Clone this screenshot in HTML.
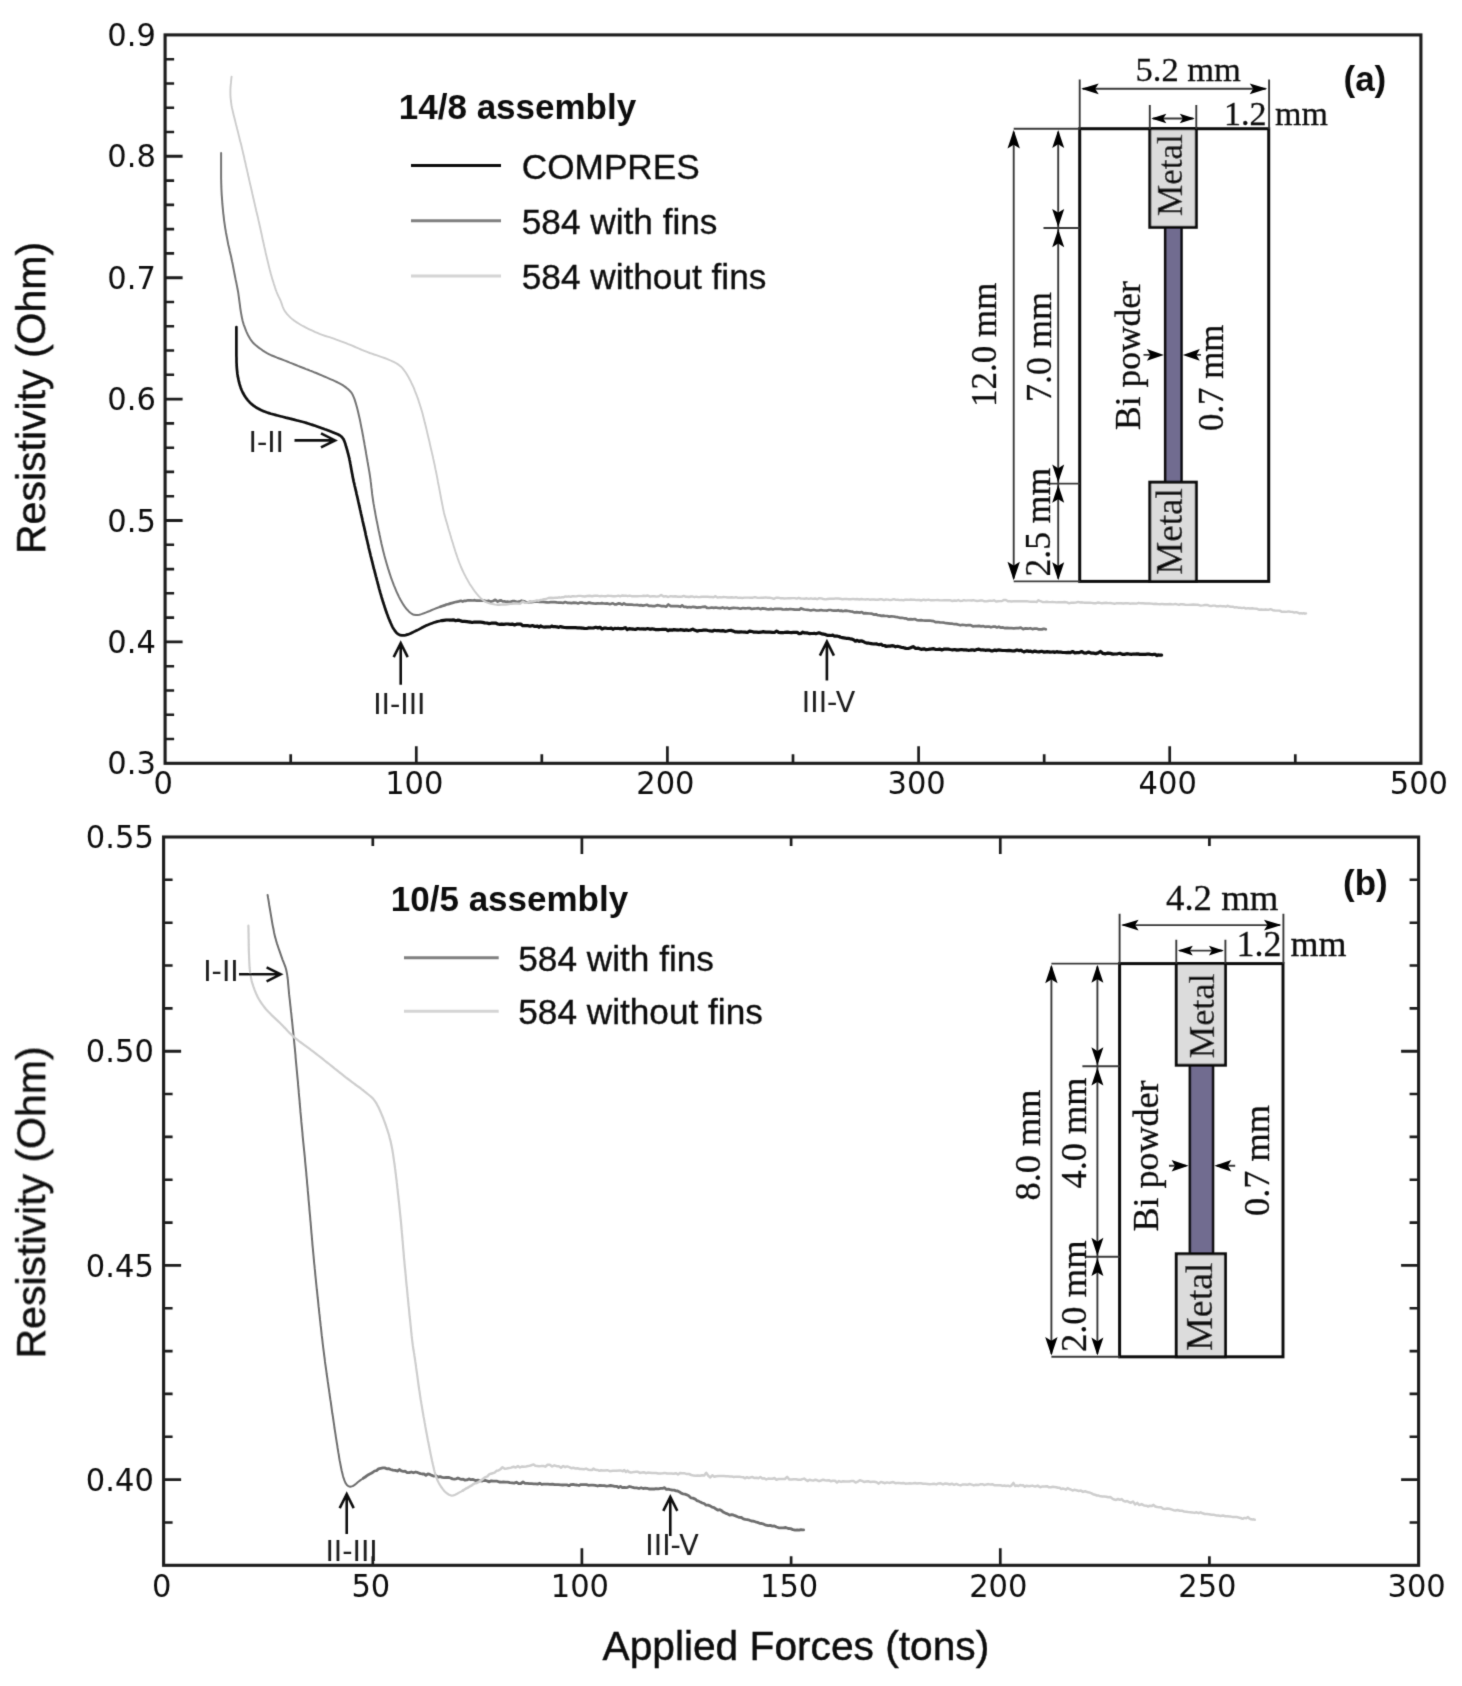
<!DOCTYPE html>
<html lang="en"><head><meta charset="utf-8"><title>Resistivity vs applied force</title>
<style>html,body{margin:0;padding:0;background:#fff}body{width:1462px;height:1686px;overflow:hidden}svg{display:block}.tk{font-family:"DejaVu Sans", "Liberation Sans", sans-serif;font-size:32.3px;fill:#0c0c0c}.ann{font-family:"DejaVu Sans", "Liberation Sans", sans-serif;font-size:28.5px;fill:#1a1a1a}.lg{font-family:"Liberation Sans", sans-serif;font-size:35.2px;fill:#111;stroke:#111;stroke-width:0.35px}.ttl{font-family:"Liberation Sans", sans-serif;font-size:35px;font-weight:bold;fill:#111}.ax{font-family:"Liberation Sans", sans-serif;font-size:41px;fill:#111;stroke:#111;stroke-width:0.45px}.sa{font-family:"Liberation Serif", serif;font-size:34px;fill:#111;stroke:#111;stroke-width:0.3px}.sb{font-family:"Liberation Serif", serif;font-size:36px;fill:#111;stroke:#111;stroke-width:0.3px}</style></head><body>
<svg width="1462" height="1686" viewBox="0 0 1462 1686">
<defs><filter id="soft" x="0" y="0" width="1462" height="1686" filterUnits="userSpaceOnUse"><feConvolveMatrix order="3" kernelMatrix="1 6 1 6 36 6 1 6 1" divisor="64" edgeMode="duplicate" preserveAlpha="false"/></filter></defs>
<rect x="0" y="0" width="1462" height="1686" fill="#fff"/>
<g filter="url(#soft)">
<g fill="none" stroke-linecap="round" stroke-linejoin="round">
<path d="M236.4 327.2L236.4 328.5L236.4 330.2L236.4 332.2L236.4 334.4L236.4 336.9L236.4 339.4L236.4 342L236.4 344.5L236.4 346.9L236.4 349.1L236.4 351.1L236.4 353.5L236.4 355.8L236.5 358L236.5 360L236.5 362L236.6 363.9L236.7 365.7L236.8 367.5L237 369.8L237.2 371.9L237.4 374L237.7 375.9L238.1 377.8L238.5 379.8L239 381.8L239.5 383.8L240.1 385.8L240.7 387.7L241.4 389.5L242.2 391.3L243.2 393.3L244.3 395.2L245.4 397L246.6 398.7L247.9 400.3L249.6 402.2L251.3 403.9L253.2 405.4L255.3 406.9L257.1 408L259 409L260.9 410L263 410.9L265.2 411.8L267.1 412.5L269 413.1L270.9 413.7L273 414.3L275.2 414.9L277.5 415.5L279.4 416L281.4 416.5L283.5 417L285.7 417.6L287.9 418.1L290 418.6L292 419.1L293.9 419.6L296.2 420.2L298.3 420.7L300.3 421.2L302.3 421.8L304.2 422.3L306.2 422.9L308.2 423.5L310.3 424.2L312.4 424.9L314.4 425.6L316.5 426.3L318.5 427L320.6 427.7L322.7 428.5L324.9 429.3L327 430L329 430.8L330.8 431.5L333.3 432.5L335.7 433.4L337.7 434.2L339.5 435.2L341.3 436.5L342.6 437.9L343.7 439.6L344.6 441.7L345.4 444.2L346.2 447L346.8 448.8L347.3 450.7L347.9 452.8L348.5 455.2L349.2 458L349.5 459.6L349.9 461.3L350.2 463.2L350.6 465.1L350.9 467.1L351.3 469.2L351.7 471.3L352.1 473.5L352.5 475.6L352.9 477.7L353.3 479.6L353.7 481.6L354.2 483.5L354.6 485.5L355.1 487.5L355.6 489.6L356.1 491.6L356.5 493.7L357 495.8L357.5 497.9L358 500L358.4 502L358.9 503.9L359.3 505.9L359.8 507.9L360.2 510L360.7 512L361.1 514.1L361.6 516.1L362.1 518.2L362.5 520.3L363 522.5L363.5 524.6L364 526.6L364.4 528.7L364.9 530.7L365.4 532.8L365.8 535L366.3 537.1L366.8 539.2L367.3 541.3L367.8 543.5L368.3 545.6L368.7 547.6L369.2 549.7L369.7 551.7L370.2 553.8L370.7 556L371.3 558.1L371.8 560.2L372.3 562.2L372.8 564.3L373.3 566.3L373.8 568.4L374.4 570.4L374.9 572.4L375.4 574.3L375.9 576.3L376.5 578.4L377 580.5L377.6 582.6L378.1 584.7L378.7 586.8L379.2 588.8L379.8 590.8L380.3 592.8L380.9 594.7L381.4 596.6L382 598.5L382.7 600.8L383.4 603L384.1 605.2L384.8 607.4L385.5 609.5L386.2 611.5L386.9 613.5L387.6 615.3L388.2 617L389.1 619.3L390 621.4L390.8 623.3L391.6 625L392.3 626.6L393.1 628L394.6 630.4L396 632.2L397.4 633.6L399.4 634.9L401.7 635.4L403.5 635.4L405.6 635.1L407.9 634.4L409.9 633.7L412 632.7L414.2 631.6L416.5 630.5L418.4 629.6L420.3 628.6L422.3 627.5L424.3 626.5L426.3 625.6L428.2 624.8L430.1 623.9L432.1 623.2L434.1 622.5L436.2 621.9L438 621.4L439.9 621L441.8 620.6" stroke="#0a0a0a" stroke-width="2.7"/><path d="M441.8 620.6L443.9 620.3L446.1 620L448.5 620L450.2 620.2L452 620.2L453.8 619.9L455.6 620.7L457.6 620.2L459.7 620.4L461.9 621.3L464.4 621.4L467 621.7L468.7 621.9L470.5 622.1L472.3 622.5L474.3 622L476.3 622.2L478.3 622.2L480.4 622.2L482.6 622.4L484.7 622.9L486.9 623L489.1 623.6L491.3 623.2L493.4 623.1L495.6 623L497.7 624L499.7 624.4L501.7 624.1L503.8 624.4L505.9 624L508.1 624L510.2 624.3L512.4 624.1L514.5 624.9L516.6 624.2L518.7 624.1L520.7 624L522.7 625.7L524.7 625.6L526.5 625.7L528.3 625.7L530 626.2L532.4 625.5L534.3 626.3L536 626.4L537.5 626.1L539 627.2L540.6 625.9L542.3 626.7L544.5 627.1L547 626.9L550.2 627L551.7 626.1L553.3 626.7L555 626.7L556.8 626.8L558.6 627.4L560.6 626.5L562.5 627.2L564.6 627.5L566.7 627.7L568.8 627.6L571 627.6L573.2 627.6L575.5 627.6L577.7 627.8L580 627.9L582.3 628.1L584.5 628.4L586.8 628.5L589.1 627.8L591.3 628L593.5 628L595.7 627.3L597.9 627.9L600 627.3L602 629L603.9 628.2L605.8 628.2L607.6 628.5L609.4 628.5L611.2 628.1L612.9 629.2L614.7 628.4L616.4 628.5L618.2 628.3L619.9 628.7L621.7 628.6L623.5 628.3L625.4 627.7L627.3 629.7L629.2 628.7L631.2 628.8L633.3 629.1L635.4 629.5L637.7 628.5L640 629L642.4 628.9L644.9 629.2L647.6 628.5L650.3 629.3L651.9 628.9L653.5 629L655.2 629.6L656.9 629.5L658.7 629.6L660.5 629.5L662.3 629.3L664.1 629.3L666 629.3L668 630.7L669.9 629.8L671.9 630.1L673.9 629.6L675.9 629.9L678 630.2L680.1 629.7L682.2 629.9L684.3 630.4L686.4 629.9L688.5 630.5L690.7 630L692.8 629.1L695 630.3L697.1 631.1L699.3 630.5L701.5 630.5L703.6 630.1L705.8 630L708 630.5L710.1 630.8L712.3 631.2L714.4 630.3L716.6 630.7L718.7 630.6L720.8 630.8L722.9 630.6L724.9 631.3L727 631L729 630.5L731 630.4L733 631L734.9 631.8L736.9 631.8L738.7 632.1L740.6 631.9L742.8 632L745.1 632.2L747.4 632.5L749.6 631.1L751.9 631.5L754.2 632.2L756.4 632.2L758.7 632.4L761 632.2L763.2 631.6L765.5 632.1L767.7 632.2L769.9 632.1L772.2 632.3L774.4 632.5L776.6 631.1L778.7 632.4L780.9 632.7L783 632.7L785.1 632.3L787.2 632.1L789.3 632.4L791.3 632.6L793.3 632.4L795.3 632.4L797.2 632.4L799.1 633.7L801 633.4L802.8 632.2L804.6 632.9L806.3 632.9L808 633.2L809.7 633.6L811.3 633.5L812.8 633.5L814.3 633.3L815.8 633.7L819.1 632.8L822.1 633.9L824.7 634.3L827.1 635.3L829.2 635.4L831.1 635.5L832.8 635.2L834.5 636.2L836 636.1L837.5 636.2L839 636.5L840.6 637.3L842.2 637.6L844 637.9L845.9 638.3L847.9 638.4L849.8 638.7L851.7 639.1L853.5 639.8L855.4 641.2L857.2 640.3L859.1 641.4L861 640.8L862.9 641.4L864.9 642.4L866.9 643.1L869 643.2L871.2 643.6L873.6 644L876 643.9L877.7 644.3L879.4 644.6L881.1 644.2L882.8 645.5L884.6 645.5L886.3 646.5L888.1 646.2L889.9 646.1L891.7 645.7L893.6 645.9L895.5 646.8L897.5 646.3L899.5 646.8L901.6 647.5L903.7 647.7L906 648.4L908.3 648.5L910.6 647.8L913.1 646.6L915.7 648.5L918.3 648.2L921.1 649.4L922.7 649.1L924.4 648.9L926.1 649.7L927.9 649.5L929.8 649.1L931.7 648.9L933.6 648.6L935.6 649.5L937.6 649.5L939.6 649.1L941.7 649.9L943.8 649.2L946 649L948.1 649.1L950.3 649.5L952.5 649.8L954.7 649.5L956.9 650.1L959.1 649.8L961.3 649.5L963.6 649.9L965.8 649.9L968 650.3L970.2 650.1L972.4 649.8L974.6 650.4L976.7 649.5L978.9 649.1L981 650L983.1 649.9L985.1 650.3L987.1 650.1L989.1 650.1L991 650.8L992.9 650.8L994.8 650.1L996.6 650.6L998.3 649.9L1000 650.1L1002.5 650.5L1004.8 650.5L1007 650.7L1009 650.4L1010.9 650.7L1012.7 651L1014.4 650.9L1016.1 650.2L1017.7 650.2L1019.3 650.6L1020.8 650.2L1022.3 651.1L1023.9 651.9L1025.5 651.3L1027.2 650.9L1028.9 651.4L1030.7 651.2L1032.6 651.9L1034.6 651.1L1036.8 651.6L1039.1 651.9L1041.6 651.3L1044.3 652.1L1047.2 651.7L1050.3 652.1L1051.8 652L1053.4 651.9L1055 652.4L1056.8 651.6L1058.5 652.2L1060.4 652L1062.3 652.3L1064.3 652.5L1066.3 652.6L1068.3 652.4L1070.4 652.7L1072.6 651.5L1074.8 652.8L1077 652.6L1079.3 652.6L1081.6 651.5L1083.9 652.8L1086.2 653.1L1088.6 652.1L1091 653.1L1093.4 653.1L1095.8 653.6L1098.2 652.9L1100.6 651.4L1103 653.4L1105.5 653.8L1107.9 653.1L1110.3 653.4L1112.7 654.1L1115.1 654L1117.5 653.8L1119.8 653.3L1122.2 654.3L1124.5 654.4L1126.8 653.7L1129 654L1131.2 654.3L1133.4 654L1135.5 654.2L1137.6 653.9L1139.7 654.4L1141.7 654.3L1143.6 654.4L1145.5 654.3L1147.3 654.2L1149.1 654.2L1150.8 654.5L1152.4 654.7L1154 654.3L1155.4 654.4L1156.8 655.6L1158.2 654.8L1159.4 655.2L1160.5 655L1161.6 655.1" stroke="#0a0a0a" stroke-width="3.2"/>
<path d="M221.1 152.9L221.1 154.2L221.1 155.8L221.1 157.8L221.1 159.9L221.1 162.3L221.1 164.7L221.1 167.2L221.1 169.7L221.1 172.1L221.1 174.2L221.1 176.2L221.1 178.6L221.2 180.8L221.2 182.9L221.3 184.9L221.3 186.9L221.4 188.8L221.5 190.8L221.6 192.8L221.7 194.9L221.9 197L222 199L222.2 201.1L222.3 203.2L222.5 205.2L222.7 207.3L222.9 209.4L223.1 211.5L223.3 213.6L223.6 215.6L223.8 217.7L224 219.8L224.3 221.9L224.6 223.9L224.9 226L225.2 228.1L225.6 230.2L225.9 232.2L226.3 234.3L226.7 236.4L227.1 238.4L227.5 240.5L227.9 242.6L228.3 244.7L228.8 246.8L229.3 248.8L229.7 250.9L230.2 253L230.7 255L231.2 257.1L231.6 259.2L232 261.3L232.5 263.3L232.9 265.4L233.3 267.5L233.7 269.6L234.1 271.6L234.5 273.7L234.9 275.8L235.3 277.9L235.7 279.9L236.2 282L236.6 284.1L237 286.1L237.4 288.2L237.8 290.3L238.2 292.4L238.5 294.6L238.8 296.8L239.1 299L239.4 301.3L239.7 303.5L240 305.6L240.2 307.6L240.5 309.5L240.9 312.1L241.3 314.4L241.7 316.5L242.1 318.6L242.6 320.7L243.2 322.9L243.9 325.1L244.7 327.2L245.5 329.3L246.3 331.3L247.2 333.3L248.1 335.2L249.1 337L250.1 338.8L251.2 340.4L252.6 342.2L254.1 343.8L255.8 345.3L257.8 346.9L259.4 348.1L261.1 349.3L262.9 350.6L264.9 351.9L267 353.1L269.3 354.3L271.1 355.2L273.1 356L275.1 356.8L277.2 357.7L279.3 358.5L281.5 359.3L283.6 360.1L285.7 360.9L287.7 361.7L289.8 362.6L291.9 363.4L293.9 364.2L295.9 365L298 365.9L300.1 366.7L302.1 367.5L304.1 368.3L306.1 369.1L308 369.8L310 370.6L312 371.3L314 372.2L316.2 373L318.5 374L320.3 374.8L322.3 375.6L324.3 376.5L326.5 377.4L328.6 378.3L330.8 379.3L332.9 380.2L334.9 381.1L336.8 382L338.5 382.8L340 383.6L342.7 385.2L344.8 386.6L346.5 387.9L347.9 389.1L349.2 390.3L350.9 392L351.9 393.4L352.9 395.3L353.7 397.1L354.5 399.1L355.2 401.4L356 403.9L356.5 405.7L357 407.5L357.5 409.4L358 411.5L358.5 413.7L359.1 416.2L359.5 418L359.9 419.8L360.3 421.8L360.7 423.9L361.1 426L361.5 428.1L362 430.3L362.4 432.5L362.8 434.7L363.2 436.7L363.5 438.7L363.9 440.8L364.3 442.8L364.6 444.9L365 447L365.4 449.2L365.8 451.3L366.1 453.5L366.5 455.6L366.8 457.6L367.2 459.5L367.5 461.5L367.9 463.5L368.2 465.6L368.6 467.6L368.9 469.6L369.3 471.6L369.6 473.7L369.9 475.7L370.2 477.7L370.5 479.7L370.7 481.7L371 483.7L371.2 485.7L371.4 487.7L371.7 489.7L371.9 491.7L372.1 493.7L372.4 495.8L372.7 497.9L373 500L373.3 502L373.6 503.9L374 505.9L374.3 507.9L374.7 510L375.1 512L375.4 514.1L375.8 516.1L376.2 518.2L376.6 520.3L377.1 522.5L377.5 524.6L377.9 526.6L378.3 528.7L378.7 530.7L379.2 532.8L379.6 535L380.1 537.1L380.5 539.2L381 541.3L381.4 543.5L381.9 545.6L382.4 547.6L382.9 549.7L383.4 551.7L384 553.9L384.5 556L385.1 558.2L385.7 560.3L386.3 562.4L386.9 564.5L387.5 566.6L388.1 568.6L388.8 570.6L389.4 572.6L390 574.5L390.6 576.3L391.4 578.7L392.3 581L393.1 583.2L393.9 585.3L394.8 587.4L395.6 589.4L396.4 591.3L397.2 593.1L398 594.8L399.1 597.1L400.2 599.2L401.2 601.1L402.2 602.8L403.2 604.4L404.2 605.9L405.7 608L407.3 609.8L408.8 611.4L410.3 612.7L412.1 614L413.9 614.8L415.9 615.1L417.6 615L419.5 614.7L421.5 614.1L423.9 613.3L425.7 612.6L427.7 611.8L429.8 611L431.9 610L434.1 609.1L436.2 608.3L438.3 607.5L440.3 606.8" stroke="#757575" stroke-width="2.0"/><path d="M440.3 606.8L442.4 606L444.4 605.4L446.4 604.5L448.5 604.1L450.6 603.4L452.6 602.9L454.7 602.3L456.7 601.8L458.8 601.4L460.8 600.8L462.7 601.6L464.4 600.8L466.2 600.8L468.1 600.3L470.3 600.4L473.1 600.5L474.7 600.2L476.4 600.7L478.2 600.5L480.1 600.6L482.1 600.6L484.1 600.6L486.3 601.3L488.5 600.7L490.7 601.8L493 601L495.3 599.8L497.7 601.6L499.4 600.7L501.1 600.4L502.7 601.5L504.3 601.4L506 601.8L507.6 601.7L509.3 602L511 601.6L512.8 601.1L514.8 601.2L516.9 602.1L519.1 601.7L521.5 600.7L524.1 601.3L526.9 602.7L530 601.9L531.5 602.1L533 601.9L534.6 601.6L536.2 601.7L537.9 601.7L539.7 602L541.4 602L543.2 601.9L545.1 602.1L546.9 602.3L548.9 602.5L550.8 602L552.8 602.2L554.8 602.1L556.8 602.4L558.9 602.6L560.9 602.5L563 603L565.2 602L567.3 602.8L569.4 602.9L571.6 603.1L573.8 602.7L576 602.8L578.1 603.5L580.3 602.6L582.5 602.7L584.7 603.2L586.9 603.3L589.1 602.6L591.3 603.1L593.5 603.4L595.7 603.6L597.8 603.3L600 603.5L601.9 603.1L603.7 603.5L605.6 603.6L607.4 603.4L609.3 604.1L611.1 603.8L612.9 603.3L614.8 604.4L616.6 604.3L618.4 603.4L620.3 603.7L622.1 604.6L623.9 603.4L625.8 604.5L627.6 604.7L629.5 604.6L631.4 604.5L633.3 604.8L635.1 605L637.1 604.9L639 605.3L640.9 605.1L642.9 605.6L644.9 605.2L646.9 604.8L648.9 605.9L650.9 605.9L653 606.1L655.1 606.1L657.3 605.2L659.4 605.5L661.6 606.2L663.8 606L666.1 606.7L668.4 604.5L670.7 606.1L673.1 606L675.5 606.2L677.9 606.1L680.4 606.8L682.1 605.4L683.8 606.8L685.6 606.8L687.4 607.4L689.3 607L691.2 607.3L693.1 606.8L695 607.1L697 607.6L699 607.3L701 607.3L703.1 606.8L705.2 606.7L707.3 608L709.4 608L711.6 607.5L713.7 607.9L715.9 607.5L718.1 608L720.3 608.2L722.5 607.4L724.8 608.3L727 607.8L729.3 608.6L731.5 608.2L733.7 607.9L736 608L738.3 608.2L740.5 608.7L742.8 608L745 608.3L747.2 608.2L749.5 608L751.7 609L753.9 608.6L756.1 608.5L758.3 608.1L760.4 609.1L762.6 608.4L764.7 608.6L766.8 609.1L768.9 609.4L770.9 608.9L773 609.5L775 608.8L776.9 608.8L778.9 608.9L780.8 608.9L782.7 609.4L784.5 609.5L786.3 609.2L788.1 609.5L789.8 609L791.5 609.2L793.2 609.3L794.8 609.6L796.3 609.7L797.8 609.7L799.3 609.7L800.7 608.4L804.3 609.5L807.7 609.8L810.8 610.5L813.7 609.8L816.4 610.5L818.9 610.3L821.2 610L823.3 610.5L825.3 610.5L827.2 610.6L828.9 610L830.6 610L832.2 610.5L833.7 610.7L835.2 610.6L836.7 610.6L838.2 610.2L839.6 610.9L841.1 610.6L842.6 611.1L844.2 610.9L845.9 610.6L848.3 611L850.6 611.4L852.6 611.7L854.6 612.5L856.5 612.2L858.3 612.4L860.1 612.6L861.8 612L863.6 613.4L865.4 613.2L867.3 613.3L869.3 613.5L871.4 613.6L873.6 614.6L876 614.3L877.7 615.2L879.5 615.3L881.4 615.9L883.3 615.7L885.2 616L887.2 616L889.2 616.6L891.3 616.3L893.4 616.5L895.5 616.9L897.6 617.2L899.7 617.8L901.9 617.8L904.1 618.3L906.2 618.4L908.4 619.4L910.5 619.1L912.7 619.4L914.8 619L916.9 620.2L919 620.3L921.1 620.1L923.2 620.5L925.2 620.6L927.3 620.6L929.4 620.5L931.5 620.8L933.6 621.1L935.7 622.2L937.8 622L939.9 622.4L942 622.5L944.1 622.7L946.2 623.2L948.3 623.4L950.3 623.7L952.4 623.7L954.4 624.2L956.5 624.1L958.5 624.7L960.5 625.3L962.4 624.8L964.4 625L966.3 625.4L968.5 625L970.6 625.1L972.8 626.3L974.9 626.2L976.9 626.2L979 625.9L981 626.4L983 626.1L985 626.8L987 626.6L989 626.6L990.9 627.3L992.9 626.7L994.9 626.6L996.9 627.5L998.9 626.7L1001 627.7L1003 627.4L1005.1 628.2L1007.1 627.9L1009.3 628.1L1011.5 628.2L1013.8 628.3L1016.1 628.2L1018.5 628.1L1020.8 627.6L1023.2 629.1L1025.6 628.3L1027.9 628.7L1030.1 628.2L1032.4 629.1L1034.5 628.7L1036.5 628.5L1038.4 629.3L1040.2 629.4L1041.9 629.4L1043.4 628.9L1044.7 628.9L1045.8 629.3" stroke="#757575" stroke-width="2.7"/>
<path d="M231.6 76.6L231.4 78L231.2 80L231 82.4L230.7 85L230.5 87.5L230.4 89.9L230.4 92.1L230.4 94.3L230.5 96.6L230.7 98.8L230.9 101L231.2 103.2L231.5 105.4L231.9 107.5L232.4 109.6L232.9 111.8L233.4 114L234 116.4L234.5 118.3L235 120.3L235.5 122.4L236 124.5L236.6 126.6L237.1 128.8L237.7 130.9L238.2 133L238.7 135.1L239.2 137.1L239.7 139.2L240.2 141.2L240.8 143.3L241.3 145.3L241.8 147.4L242.3 149.6L242.8 151.6L243.2 153.6L243.7 155.6L244.2 157.6L244.6 159.7L245.1 161.7L245.6 163.8L246 165.9L246.5 167.9L247 169.9L247.4 171.9L247.9 174L248.3 176L248.8 178L249.2 180L249.7 182.1L250.1 184.1L250.6 186.1L251.1 188.1L251.5 190.1L252 192.1L252.4 194L252.9 196L253.3 198.1L253.8 200.1L254.3 202.2L254.8 204.4L255.2 206.3L255.7 208.2L256.1 210.2L256.6 212.2L257.1 214.3L257.6 216.3L258.1 218.4L258.5 220.4L259 222.3L259.4 224.2L259.8 226L260.3 228.3L260.8 230.5L261.2 232.6L261.7 234.6L262.1 236.6L262.5 238.6L262.9 240.6L263.4 242.6L263.9 244.7L264.3 246.8L264.8 248.8L265.3 250.9L265.7 253L266.2 255L266.7 257.1L267.2 259.2L267.7 261.3L268.2 263.4L268.7 265.5L269.2 267.6L269.7 269.6L270.3 271.7L270.8 273.8L271.4 275.8L272 277.9L272.6 279.9L273.3 282L273.9 284.1L274.6 286.1L275.2 288.1L275.8 289.9L276.4 291.5L277.5 294.2L278.5 296.4L279.5 298.4L280.5 300.5L281.2 302.4L281.9 304.4L282.6 306.5L283.4 308.4L284.3 310.2L285.6 312.2L287.1 314.1L288.8 315.9L290.5 317.6L292 318.9L293.5 320.1L295.1 321.2L296.8 322.4L298.6 323.5L300.2 324.5L301.9 325.5L303.7 326.4L305.5 327.4L307.4 328.4L309.3 329.3L311.3 330.2L313.3 331.1L315.3 332.1L317.4 332.9L319.5 333.8L321.6 334.6L323.6 335.3L325.5 336L327.5 336.6L329.5 337.2L331.6 337.9L333.9 338.7L335.7 339.4L337.7 340.1L339.7 340.8L341.8 341.6L343.9 342.4L346 343.2L348.2 344.1L350.3 344.9L352.2 345.7L354.1 346.5L356 347.3L357.9 348.1L359.8 349L361.8 349.8L363.7 350.6L365.7 351.4L367.7 352.2L369.7 353L371.9 353.7L374.1 354.5L376.3 355.2L378.4 355.9L380.5 356.7L382.6 357.4L384.5 358L386.2 358.7L388.5 359.6L390.6 360.5L392.5 361.4L394.2 362.2L395.8 363L397.3 363.9L399.2 365.2L400.7 366.4L402 367.7L403.4 369.4L404.6 371L405.9 372.8L407.1 374.8L408.4 376.9L409.6 379.2L410.5 380.9L411.3 382.7L412.2 384.5L413.1 386.4L414 388.4L414.8 390.6L415.7 392.8L416.4 394.6L417.1 396.5L417.8 398.4L418.5 400.4L419.1 402.4L419.8 404.5L420.5 406.7L421.2 408.9L421.9 411.3L422.4 413.1L422.9 415L423.4 417L423.9 419L424.4 421L424.9 423.1L425.5 425.2L426 427.3L426.5 429.4L427 431.6L427.5 433.7L428 435.9L428.5 437.9L429 440L429.5 442L429.9 444.1L430.4 446.3L430.9 448.4L431.4 450.5L431.9 452.6L432.4 454.8L432.9 456.9L433.3 458.9L433.8 461L434.2 463L434.7 465.1L435.1 467.3L435.5 469.4L436 471.5L436.4 473.5L436.8 475.6L437.2 477.6L437.6 479.7L437.9 481.7L438.3 483.7L438.7 485.6L439.1 487.6L439.5 489.7L439.9 491.9L440.3 494.1L440.7 496.2L441.1 498.4L441.5 500.5L441.9 502.5L442.3 504.5L442.7 506.4L443 508.3L443.4 510L443.9 512.4L444.4 514.4L444.9 516.3L445.4 518.1L445.9 519.9L446.6 522.1L447.3 524.6L447.8 526.3L448.3 528.2L448.9 530.2L449.6 532.3L450.2 534.5L450.9 536.7L451.5 539L452.2 541.2L452.9 543.3L453.5 545.4L454.1 547.4L454.7 549.2L455.4 551.5L456.1 553.6L456.8 555.6L457.4 557.5L458.1 559.4L458.7 561.2L459.4 563L460.1 564.7L460.8 566.5L461.7 568.5L462.6 570.5L463.5 572.4L464.4 574.3L465.4 576.1L466.3 577.9L467.3 579.6L468.2 581.3L469.4 583.4L470.7 585.4L472 587.3L473.2 589.1L474.4 590.8L475.6 592.3L477.2 594.4L478.7 596.2L480.2 597.7L481.7 599.1L483.6 600.6L485.6 601.8L487.9 602.8L490 603.5L492.4 604L495 604.5L497.7 604.7" stroke="#cccccc" stroke-width="1.9"/><path d="M497.7 604.7L499.5 604.7L501.4 604.6L503.3 604.5L505.3 604.5L507.6 604.3L510.1 603.9L512 603.8L513.9 603.6L516 603.4L518.1 603.6L520.3 603.7L522.7 601.6L525 602.9L527.5 602.7L530 601.5L531.7 601.6L533.4 601.4L535.2 600.9L536.9 600.4L538.6 600.7L540.4 600L542.3 599.6L544.2 599.1L546.2 599L548.4 598L550.7 597.7L553.1 598L555.7 597.6L557.3 597.8L558.9 597.3L560.5 597.6L562.1 597.3L563.8 597.2L565.5 596.4L567.2 596.7L568.9 596.3L570.7 596.8L572.5 596.1L574.4 596.3L576.4 596.4L578.4 595.9L580.5 595.9L582.6 596.2L584.8 596.5L587.1 596L589.5 595.8L592 596.2L594.5 595.7L597.2 595.6L600 596.3L601.6 596L603.2 596.1L604.8 596.2L606.4 596.2L608 595.7L609.7 595.9L611.4 596L613.1 596.2L614.9 596.3L616.6 596.1L618.4 595.6L620.2 596.3L622 595.5L623.9 595.8L625.8 595.6L627.6 596.2L629.6 595.7L631.5 596.2L633.5 596.3L635.4 596.2L637.5 596.3L639.5 596.1L641.6 596.1L643.6 595.7L645.7 596L647.9 595.5L650 596.6L652.2 596.2L654.4 596.3L656.6 596.6L658.9 596.3L661.2 594.9L663.5 596.5L665.8 596.2L668.2 597L670.6 596.1L673 596.5L675.4 596.3L677.9 596.8L680.4 596.8L682.1 596.5L683.8 595.9L685.5 596.7L687.3 596.7L689 597L690.8 596.5L692.6 596.5L694.4 597.2L696.3 596.7L698.1 597.1L700 597L701.9 596.7L703.8 596.6L705.7 596.8L707.7 596.8L709.6 597L711.6 597L713.6 597.2L715.5 596.1L717.5 597.6L719.6 597.1L721.6 597.4L723.6 597L725.6 597.1L727.7 597.5L729.7 597.5L731.8 597.3L733.9 597.6L736 597.2L738.1 597.9L740.1 597.6L742.2 598L744.3 597.6L746.4 597.6L748.5 597.6L750.7 597.7L752.8 597.7L754.9 597.1L757 597.7L759.1 597.9L761.2 597.7L763.3 597.8L765.5 597.4L767.6 597.7L769.7 597.7L771.8 598.1L773.9 598.9L776 597.8L778.1 597.7L780.2 598.2L782.3 598.1L784.3 598.5L786.4 598.4L788.5 598.3L790.5 598.2L792.6 598.1L794.6 598.1L796.7 598.6L798.7 597.8L800.7 598.5L802.7 598.6L804.7 598.7L806.8 598.3L808.8 598.8L810.9 598.3L812.9 598.9L815 598.5L817.1 599.2L819.2 598.1L821.2 598.4L823.3 599L825.4 599.4L827.5 599L829.7 598.7L831.8 598.8L833.9 598.7L836 598.4L838.1 598.5L840.2 598.8L842.4 599.2L844.5 599L846.6 598.9L848.7 599.2L850.8 599.2L853 598.9L855.1 599.2L857.2 599L859.3 599.5L861.4 599L863.5 599.4L865.6 599.5L867.7 599.1L869.7 599.7L871.8 599.5L873.9 599.5L875.9 599.8L878 599.7L880 599.3L882 599.3L884 600.1L886 599.5L888 599.6L890 600.1L892 599.7L893.9 599.1L895.9 599.9L897.8 599.8L899.7 600.1L901.6 599.9L903.4 600.4L905.3 599.6L907.1 599.7L908.9 599.9L910.7 599.5L912.5 599.7L914.3 599.7L916 600.1L917.7 599.9L919.4 600L921.1 600.5L923.6 599.7L926.1 600.2L928.5 599.6L930.9 600.3L933.2 600.2L935.5 600.1L937.7 600L939.9 600.4L942.1 600.4L944.2 600.1L946.3 600.3L948.4 600.3L950.4 600.3L952.4 601L954.4 600.5L956.4 600.8L958.3 600L960.2 601L962.1 600.9L964 600.2L965.9 600.6L967.7 600.4L969.6 600.4L971.4 600.5L973.3 600.2L975.1 600.6L977 601L978.8 600.8L980.7 600.5L982.5 600.5L984.4 601.3L986.3 601.4L988.2 601L990.1 600.6L992 600.9L994 600.3L996 601.6L998 601.2L1000 601.1L1002 601L1004 599.9L1005.9 600L1007.9 601.3L1009.8 601.3L1011.7 601.5L1013.7 601.1L1015.6 601.2L1017.5 601.3L1019.4 601.2L1021.3 601.1L1023.2 601.2L1025.1 601.1L1027 601.2L1028.9 601.6L1030.9 601.7L1032.8 601.7L1034.7 601.6L1036.6 602.1L1038.5 600.2L1040.5 601.2L1042.4 602L1044.4 602.1L1046.4 601.7L1048.4 602L1050.4 602.1L1052.4 602L1054.4 602.1L1056.4 602.4L1058.5 602.1L1060.6 602.3L1062.7 602.2L1064.8 602L1067 602.4L1069.1 603.3L1071.3 602.6L1073.6 602.7L1075.8 602.6L1078.1 601.9L1080.4 602.5L1082.2 602.3L1084 602.7L1085.9 602.8L1087.8 602.7L1089.7 602.6L1091.7 602.9L1093.7 603.2L1095.7 603.3L1097.7 602.5L1099.8 602.8L1101.8 603.3L1103.9 603L1106 602.8L1108.2 603.1L1110.3 603L1112.4 603.4L1114.6 603.8L1116.8 603.2L1119 603.3L1121.1 603.2L1123.3 603.5L1125.5 603.3L1127.7 603.1L1129.9 603.7L1132.1 603.4L1134.3 603.5L1136.5 603.6L1138.7 602.8L1140.9 603.3L1143 603.2L1145.2 603.5L1147.4 603.5L1149.5 603.5L1151.6 603.6L1153.7 604L1155.8 603.7L1157.9 604.1L1159.9 604.2L1162 603.9L1164 604.3L1166 604.1L1167.9 604.2L1169.8 604L1171.7 604.3L1173.6 604.4L1175.4 603.9L1177.2 604.4L1179 604.8L1180.7 604.1L1182.4 604.2L1184.1 604.5L1185.7 604.9L1188.4 604.9L1191 604.7L1193.5 604.5L1196 604.8L1198.3 604.8L1200.6 605.6L1202.8 605.4L1205 605L1207.1 604.9L1209.1 605.7L1211.1 606.1L1213 605.6L1214.9 605.6L1216.8 606.3L1218.6 606.2L1220.4 605.9L1222.2 606.3L1224 606.1L1225.8 606.7L1227.5 605.7L1229.3 606.5L1231 606.8L1232.8 606.6L1234.6 607.5L1236.4 607.1L1238.2 607.7L1240.1 607.6L1242 608.1L1243.9 607.7L1245.9 608.6L1247.9 608.1L1250 608.5L1252.2 608.2L1254.4 608.6L1256.6 608.7L1258.9 609.7L1261.2 609.5L1263.5 609.8L1265.8 609.5L1268.2 609.9L1270.5 609.2L1272.8 610.2L1275.1 610.5L1277.4 610.6L1279.7 610.6L1281.9 611.9L1284.1 611.7L1286.3 611.9L1288.4 611.4L1290.4 611.8L1292.4 611.9L1294.3 612.6L1296.1 612.1L1297.8 612.7L1299.5 613.5L1301 613.1L1302.4 613.6L1303.7 613.1L1304.9 613.7L1306 613.4" stroke="#cccccc" stroke-width="2.4"/>
<path d="M267.6 895L267.8 896.2L268 897.5L268.3 899.1L268.6 900.9L268.9 902.9L269.2 905L269.6 907.2L270 909.5L270.4 911.9L270.8 914.3L271.2 916.7L271.6 919.2L272 921.5L272.4 923.9L272.8 926.1L273.3 928.3L273.7 930.3L274 932.2L274.4 933.9L275 936.6L275.7 939L276.3 941.2L276.9 943.3L277.6 945.3L278.2 947.2L278.8 949L279.4 950.7L280 952.4L280.6 954.1L281.2 955.8L282 958.1L282.7 960.1L283.5 962L284.2 963.8L284.9 965.7L285.6 967.7L286.2 969.8L286.7 972.2L287 973.9L287.3 975.7L287.5 977.5L287.8 979.3L288 981.2L288.1 983.1L288.3 985.2L288.5 987.3L288.7 989.5L288.9 991.8L289.1 994.2L289.4 996.8L289.6 998.5L289.8 1000.2L290 1002L290.2 1003.9L290.4 1005.8L290.6 1007.7L290.8 1009.7L291 1011.7L291.3 1013.7L291.5 1015.8L291.7 1017.9L291.9 1020L292.2 1022.1L292.4 1024.3L292.6 1026.4L292.8 1028.6L293.1 1030.8L293.3 1032.9L293.5 1035.1L293.7 1037.1L293.9 1039L294.1 1041L294.3 1043.1L294.5 1045.1L294.7 1047.1L294.9 1049.2L295.1 1051.3L295.3 1053.3L295.5 1055.4L295.6 1057.5L295.8 1059.7L296 1061.8L296.2 1063.9L296.4 1066L296.6 1068.2L296.8 1070.3L297 1072.5L297.2 1074.6L297.4 1076.8L297.6 1078.9L297.8 1080.9L298 1082.9L298.1 1084.9L298.3 1086.9L298.5 1088.9L298.7 1090.9L298.8 1092.9L299 1095L299.2 1097L299.4 1099.1L299.6 1101.1L299.7 1103.2L299.9 1105.2L300.1 1107.3L300.3 1109.3L300.4 1111.4L300.6 1113.4L300.8 1115.4L301 1117.4L301.2 1119.4L301.3 1121.4L301.5 1123.4L301.7 1125.4L301.9 1127.4L302.1 1129.5L302.3 1131.5L302.5 1133.5L302.6 1135.5L302.8 1137.5L303 1139.4L303.2 1141.4L303.4 1143.4L303.6 1145.3L303.8 1147.3L304 1149.3L304.2 1151.2L304.4 1153.2L304.6 1155.2L304.8 1157.1L305 1159.1L305.1 1161.1L305.3 1163.1L305.5 1165.1L305.7 1167.2L305.9 1169.2L306.1 1171.2L306.3 1173.1L306.4 1175.1L306.6 1177L306.8 1179L307 1181L307.1 1183L307.3 1184.9L307.5 1186.9L307.7 1188.9L307.8 1190.9L308 1192.9L308.2 1194.9L308.4 1196.9L308.5 1199L308.7 1201L308.9 1203.1L309.1 1205.1L309.3 1207.2L309.4 1209.3L309.6 1211.4L309.8 1213.6L310 1215.7L310.2 1217.6L310.3 1219.5L310.5 1221.4L310.7 1223.2L310.8 1225.1L311 1226.9L311.1 1228.8L311.3 1230.7L311.4 1232.5L311.6 1234.4L311.8 1236.3L311.9 1238.2L312.1 1240.2L312.3 1242.1L312.4 1244.1L312.6 1246.1L312.8 1248.1L313 1250.2L313.2 1252.3L313.4 1254.5L313.6 1256.7L313.8 1258.9L314 1261.2L314.2 1263.5L314.5 1265.9L314.7 1268.4L314.9 1270.1L315.1 1271.9L315.2 1273.7L315.4 1275.6L315.6 1277.5L315.8 1279.4L316 1281.4L316.2 1283.4L316.4 1285.4L316.6 1287.5L316.8 1289.5L317.1 1291.6L317.3 1293.8L317.5 1295.9L317.7 1298L318 1300.2L318.2 1302.4L318.4 1304.5L318.6 1306.7L318.9 1308.9L319.1 1311L319.3 1313.2L319.6 1315.4L319.8 1317.5L320 1319.7L320.3 1321.8L320.5 1323.9L320.7 1325.9L321 1328L321.2 1330L321.4 1332L321.6 1334L321.8 1335.9L322.1 1337.8L322.3 1339.7L322.5 1341.5L322.7 1343.3L322.9 1345L323.2 1347.5L323.5 1349.9L323.8 1352.2L324.1 1354.5L324.4 1356.8L324.7 1359L324.9 1361.2L325.2 1363.3L325.5 1365.4L325.8 1367.5L326.1 1369.6L326.4 1371.6L326.6 1373.5L326.9 1375.5L327.2 1377.4L327.5 1379.3L327.7 1381.2L328 1383.1L328.3 1384.9L328.5 1386.8L328.8 1388.6L329.1 1390.4L329.3 1392.2L329.6 1394L329.8 1395.8L330.1 1397.6L330.4 1399.9L330.8 1402.2L331.1 1404.5L331.4 1406.7L331.7 1408.9L332 1411.1L332.3 1413.3L332.7 1415.4L333 1417.5L333.3 1419.5L333.6 1421.6L333.9 1423.6L334.2 1425.5L334.4 1427.5L334.7 1429.4L335 1431.2L335.3 1433.1L335.6 1434.8L335.8 1436.6L336.1 1438.3L336.5 1440.9L336.9 1443.3L337.3 1445.7L337.6 1448L338 1450.2L338.3 1452.4L338.7 1454.4L339 1456.4L339.3 1458.3L339.6 1460.2L340 1461.9L340.3 1463.7L340.6 1465.3L341.2 1468.2L341.7 1470.8L342.3 1473.1L342.8 1475.2L343.3 1477.1L343.9 1478.8L344.4 1480.4L345.6 1483.2L346.9 1485L348.2 1486.1L350.2 1486.8L352.7 1486.1L354.3 1485.1L356.1 1483.7L358 1482L360.2 1480.4L361.8 1479.3L363.4 1478.2" stroke="#6e6e6e" stroke-width="2.0"/><path d="M363.4 1478.2L365.2 1477L367 1475.7L368.8 1474.5L370.7 1473.6L372.6 1472.5L374.5 1471L376.5 1470.6L378.5 1468.9L380.6 1468.3L382.8 1467.8L384.7 1467.9L386.7 1468.8L388.6 1468.6L390.7 1469.5L392.9 1470.2L395.2 1470.4L397.8 1471.1L399.5 1469.5L401.3 1470.9L403.2 1471.3L405.1 1471.2L407.1 1472.6L409.2 1472.7L411.3 1472L413.5 1472.8L415.7 1472L418 1472.7L420.4 1473.6L422.2 1474L424 1473.8L425.9 1475.3L427.9 1473.8L429.9 1474.4L431.9 1475.4L433.9 1476.2L436 1475.7L438.1 1477.2L440.2 1476.7L442.3 1477.3L444.4 1477.7L446.4 1477.5L448.5 1477.4L450.5 1478L452.5 1478.9L454.3 1479.1L456.2 1478.8L457.9 1478L459.7 1478.8L461.4 1479.3L463.2 1479.1L465 1480.2L466.9 1479.9L468.9 1478.9L470.9 1479.7L473.1 1479.5L475.4 1480.6L477.9 1480.1L480.6 1480.9L482.2 1481L483.9 1480.3L485.7 1480.5L487.5 1481.1L489.3 1481.9L491.2 1480.8L493.2 1481.2L495.2 1481.2L497.2 1481.2L499.2 1482L501.3 1482.1L503.4 1482L505.6 1482.1L507.7 1482.1L509.9 1482.6L512 1482.8L514.2 1483.1L516.4 1482.2L518.6 1483.7L520.8 1483.5L523 1482L525.1 1483.4L527.3 1483.3L529.4 1483.7L531.5 1483.6L533.6 1483.8L535.6 1483.9L537.6 1484.1L539.7 1483.2L541.7 1484.4L543.8 1484.1L545.9 1484.2L548 1484.2L550.1 1484.4L552.2 1484.2L554.3 1484.5L556.4 1484.6L558.5 1484.6L560.6 1484.8L562.7 1485L564.8 1484.8L566.9 1484.9L569 1485.7L571 1484.6L573 1484.3L575 1484.8L577 1485L579 1485.5L580.9 1484.6L582.8 1484.6L584.7 1484.6L586.5 1484.6L588.3 1485.3L590.7 1485.2L593 1485.1L595.3 1485.3L597.6 1486L599.9 1485.3L602.1 1485.6L604.3 1485.6L606.4 1486.1L608.5 1485.9L610.6 1485.5L612.6 1485.8L614.6 1486.4L616.6 1486.3L618.6 1487.5L620.5 1486.4L622.3 1487.6L624.1 1487.3L625.9 1487.7L627.7 1487.3L629.4 1486.5L631.9 1487.2L634.4 1487.8L636.7 1487.9L639 1488.5L641.1 1487.7L643.2 1488.5L645.2 1488.2L647.1 1488.3L649 1489L650.8 1488.8L652.6 1489L654.4 1489L656.1 1488.7L658.5 1488.9L660.6 1488.3L662.7 1488.3L664.6 1487.7L666.4 1489.4L668.3 1489.2L670.1 1489.7L672.1 1490L674.2 1490.2L676 1490.8L677.7 1491L679.5 1491.9L681.2 1493.2L683 1493.8L684.9 1494.2L686.8 1494.8L688.7 1495.7L690.8 1497.8L692.9 1498.1L695.2 1499.1L696.8 1500.6L698.6 1501.1L700.4 1502.1L702.2 1503L704.1 1503.5L706.1 1505.2L708.1 1505.2L710.1 1505.8L712.1 1507.2L714.1 1507.6L716 1509.1L718 1510.2L719.9 1509.7L721.8 1510.8L723.6 1512.3L725.3 1513.1L727.5 1513.8L729.6 1515.2L731.7 1514.6L733.7 1515.2L735.6 1515.9L737.5 1516.7L739.4 1517.4L741.4 1517.5L743.3 1518.8L745.3 1519.3L747.3 1519.7L749.4 1520.2L751.4 1521L753.4 1521.1L755.4 1521.8L757.5 1522.4L759.6 1523.3L761.7 1523.5L763.8 1524.2L765.9 1525.2L768.1 1525.6L770.2 1525.4L772.3 1526.1L774.4 1526L776.5 1527L778.7 1527.8L780.9 1527.9L783.3 1527.8L785.7 1527.5L788.2 1528.5L790.6 1528.6L792.9 1529.6L795.2 1530.2L797.3 1529.9L799.2 1530.2L800.9 1529.7L802.4 1529.9L803.6 1529.8" stroke="#6e6e6e" stroke-width="2.8"/>
<path d="M248.4 925.7L248.4 926.9L248.5 928.2L248.5 929.8L248.5 931.6L248.6 933.6L248.6 935.6L248.6 937.8L248.7 940.1L248.7 942.5L248.7 944.9L248.8 947.4L248.8 949.9L248.9 952.4L249 954.8L249.1 957.2L249.2 959.6L249.3 961.8L249.4 963.9L249.5 965.9L249.6 967.7L249.8 969.4L250.1 972.2L250.5 974.8L250.9 977.1L251.3 979.2L251.7 981.1L252.2 982.9L252.8 984.7L253.3 986.3L253.9 987.9L254.5 989.6L255.2 991.3L256 993.4L256.9 995.3L257.8 997.2L258.8 999L259.8 1000.7L260.9 1002.4L262.1 1004.2L263.4 1005.9L264.8 1007.7L266 1009.2L267.4 1010.7L268.9 1012.3L270.4 1013.8L271.9 1015.4L273.5 1016.9L275.1 1018.4L276.7 1019.9L278.3 1021.4L279.8 1022.8L281.2 1024.2L282.8 1025.8L284.3 1027.4L285.7 1028.8L287 1030.3L288.4 1031.7L289.8 1033.2L291.4 1034.6L293 1036.2L294.9 1037.8L296.3 1039L297.8 1040.1L299.3 1041.3L300.9 1042.5L302.5 1043.7L304.1 1044.9L305.9 1046.2L307.6 1047.4L309.4 1048.7L311.2 1050.1L313 1051.4L314.9 1052.8L316.8 1054.3L318.3 1055.5L319.8 1056.7L321.4 1057.9L323 1059.2L324.6 1060.5L326.3 1061.8L328 1063.2L329.7 1064.5L331.4 1065.9L333 1067.2L334.7 1068.6L336.4 1069.9L338 1071.2L339.6 1072.5L341.2 1073.7L342.7 1074.9L344.2 1076.1L346.1 1077.6L348 1079L349.9 1080.4L351.7 1081.8L353.5 1083.2L355.3 1084.5L357.1 1085.8L358.8 1087L360.4 1088.2L361.9 1089.4L363.4 1090.5L364.7 1091.6L366 1092.6L368.3 1094.5L370.2 1096L371.7 1097.3L373 1098.6L374.2 1100.1L375.6 1102.1L376.6 1103.7L377.5 1105.4L378.5 1107.3L379.4 1109.2L380.3 1111.3L381.2 1113.4L382.1 1115.5L383 1117.7L383.8 1119.9L384.5 1121.7L385.2 1123.6L385.9 1125.5L386.5 1127.4L387.2 1129.4L387.8 1131.4L388.5 1133.5L389.1 1135.5L389.6 1137.6L390.2 1139.7L390.7 1141.8L391.1 1143.7L391.5 1145.6L391.9 1147.5L392.3 1149.4L392.6 1151.3L392.9 1153.2L393.2 1155.2L393.5 1157.3L393.8 1159.4L394.1 1161.6L394.5 1164L394.8 1166.4L395 1168.2L395.3 1170.1L395.5 1172.1L395.8 1174.2L396 1176.3L396.3 1178.5L396.6 1180.7L396.8 1182.9L397.1 1185.1L397.3 1187.4L397.6 1189.6L397.8 1191.8L398 1194L398.3 1196.1L398.5 1198.1L398.7 1200.1L398.9 1202L399.2 1204.3L399.4 1206.6L399.6 1208.6L399.8 1210.7L400 1212.6L400.2 1214.5L400.4 1216.4L400.6 1218.4L400.8 1220.4L401 1222.5L401.2 1224.6L401.4 1226.9L401.6 1229.4L401.8 1231.1L401.9 1232.9L402.1 1234.6L402.2 1236.3L402.4 1238.1L402.5 1239.9L402.7 1241.7L402.8 1243.5L403 1245.4L403.1 1247.3L403.3 1249.3L403.5 1251.4L403.7 1253.5L403.8 1255.7L404 1258.1L404.3 1260.5L404.5 1263L404.7 1265.6L405 1268.4L405.2 1270L405.3 1271.7L405.5 1273.5L405.7 1275.4L405.9 1277.3L406 1279.3L406.2 1281.3L406.4 1283.4L406.6 1285.6L406.9 1287.7L407.1 1290L407.3 1292.2L407.5 1294.4L407.7 1296.7L408 1299L408.2 1301.3L408.4 1303.6L408.6 1305.9L408.9 1308.1L409.1 1310.4L409.3 1312.6L409.5 1314.8L409.7 1317L410 1319.1L410.2 1321.2L410.4 1323.2L410.6 1325.2L410.8 1327.1L411 1328.9L411.1 1330.6L411.3 1332.3L411.5 1333.9L411.6 1335.4L411.8 1336.8L412.2 1340.6L412.6 1343.6L412.9 1346L413.2 1348L413.4 1349.6L413.7 1351L413.9 1352.4L414.2 1353.9L414.4 1355.5L414.7 1357.5L415.1 1360L415.3 1361.7L415.6 1363.6L415.9 1365.5L416.1 1367.4L416.4 1369.5L416.7 1371.6L417 1373.7L417.3 1375.9L417.6 1378.1L417.9 1380.3L418.2 1382.5L418.5 1384.8L418.8 1387L419.1 1389.2L419.5 1391.3L419.8 1393.5L420.1 1395.6L420.4 1397.6L420.7 1399.7L421.1 1401.8L421.4 1403.9L421.8 1406L422.1 1408.1L422.5 1410.2L422.8 1412.3L423.2 1414.3L423.5 1416.4L423.9 1418.4L424.3 1420.4L424.6 1422.4L425 1424.4L425.3 1426.4L425.7 1428.4L426 1430.3L426.4 1432.2L426.8 1434.4L427.2 1436.5L427.6 1438.7L428 1440.9L428.5 1443.1L428.9 1445.2L429.3 1447.3L429.7 1449.4L430.1 1451.4L430.5 1453.4L430.9 1455.4L431.3 1457.2L431.7 1459L432 1460.7L432.4 1462.3L433 1465.1L433.6 1467.5L434.1 1469.8L434.6 1471.8L435.2 1473.7L435.7 1475.5L436.3 1477.2L436.9 1478.9L437.8 1481.1L438.8 1483L439.9 1484.9L440.9 1486.5L442 1488L443 1489.4L444.5 1491.2L446.1 1492.7L447.6 1493.8L449 1494.7L451.2 1495.6L453.5 1495.4L455.2 1494.8L457.1 1493.8L459.5 1492.4L461 1491.6L462.7 1490.6" stroke="#cecece" stroke-width="2.2"/><path d="M462.7 1490.6L464.5 1489.5L466.3 1488.4L468.2 1487.5L470 1486.3L471.7 1485.4L473.5 1484.1L475.2 1483.2L477 1482.9L478.8 1482L480.6 1480.6L482.2 1479.5L483.9 1478.1L485.6 1477.1L487.4 1476.3L489.1 1474.4L490.9 1473.7L492.6 1473.2L494.6 1472.6L496.5 1470.8L498.4 1470.5L500.4 1469.2L502.5 1467.3L504.7 1468.8L506.7 1468.5L508.9 1468.1L511.1 1467.6L513.4 1466.8L515.7 1467.5L517.9 1466.1L520 1467.5L522.2 1466.4L524.1 1466.7L526 1466.5L528.1 1466.1L530.6 1465.5L533.6 1464.4L535.3 1465.8L537.1 1466L539 1466.2L541 1466.1L543.1 1465.9L545.3 1466.7L547.6 1464.8L549.8 1464.8L552.1 1466.5L554.4 1465.3L556.7 1466.2L558.9 1466.3L561 1467.7L563.1 1466L565.2 1467.2L567.2 1466.4L569.3 1467.1L571.3 1468.3L573.4 1467.7L575.4 1468.6L577.5 1468.2L579.6 1469L581.7 1468.9L583.9 1469.2L586.1 1468.6L588.3 1469.7L590.2 1470.1L591.9 1470L593.4 1468.6L594.9 1469.6L596.4 1469.9L597.9 1470L599.4 1470.8L601.1 1470.3L602.9 1470.6L604.9 1470.4L607.2 1470.2L609.8 1471.2L612.8 1470.8L616.2 1470.7L620 1470.4L621.4 1470.7L622.8 1471.3L624.3 1470.1L625.9 1472L627.5 1470.6L629.1 1472L630.8 1472.5L632.5 1472.3L634.3 1471.9L636.1 1471.8L638 1471.8L639.9 1472.9L641.8 1472.6L643.8 1472.2L645.8 1473.2L647.8 1472.6L649.8 1472.8L651.9 1473.1L654 1473L656.1 1473L658.3 1473.5L660.4 1473.4L662.6 1473.2L664.8 1472.9L667 1473.5L669.2 1473.4L671.4 1473.6L673.6 1473.8L675.8 1473.2L678 1474.5L680.3 1472.9L682.5 1473.2L684.7 1473.3L686.9 1474.1L689.1 1474L691.3 1475L693.5 1475.6L695.7 1475.7L697.8 1475.4L699.9 1475.8L702.1 1475.2L704.2 1475.4L706.2 1472.7L708.3 1475.8L710.3 1477.4L712.3 1475.3L714.3 1476.8L716.3 1476.3L718.2 1476L720.2 1475.9L722.1 1475.9L724 1475.9L726 1476.3L727.9 1476.3L729.8 1476.4L731.7 1476.4L733.6 1477L735.5 1476.7L737.4 1476.7L739.3 1476.8L741.2 1477.1L743.1 1477.2L745 1478.3L746.9 1477.2L748.8 1478.1L750.7 1477.3L752.6 1477.1L754.5 1478.1L756.5 1477.7L758.4 1478.2L760.4 1477L762.3 1478.4L764.3 1478.2L766.3 1479.5L768.3 1478.5L770.3 1478.8L772.3 1478.8L774.4 1478L776.4 1479.8L778.5 1479L780.6 1478.9L782.7 1479L784.9 1479L787.1 1476.8L789.2 1479.4L791.5 1479.6L793.7 1479.2L796 1479.2L798.3 1479.8L800.6 1479.7L802.4 1479.1L804.2 1478.6L806 1479.9L807.8 1481.1L809.6 1479.8L811.5 1480.3L813.4 1480.6L815.3 1479.7L817.2 1480.3L819.1 1481.2L821 1480.5L823 1479.7L824.9 1480.3L826.9 1480.6L828.9 1480.2L830.9 1481.3L832.9 1480.8L835 1480.8L837 1482.6L839 1481.1L841.1 1481.9L843.1 1481.3L845.2 1481.6L847.3 1481.5L849.4 1481.4L851.4 1481.1L853.5 1481L855.6 1482.6L857.7 1481.7L859.8 1480.3L861.9 1480.9L864 1481.9L866.1 1481.5L868.2 1481.3L870.3 1482L872.4 1481.8L874.5 1481.8L876.6 1482.3L878.7 1483.6L880.8 1481.9L882.9 1482.5L885 1483.2L887 1482.4L889.1 1482.9L891.2 1482.5L893.2 1482.1L895.3 1483.2L897.3 1483.1L899.3 1483L901.4 1483.3L903.4 1482.9L905.4 1483.7L907.4 1483.6L909.3 1483.2L911.3 1483.5L913.3 1483.3L915.2 1483L917.1 1483.6L919 1483.3L920.9 1483.3L923.1 1483.7L925.3 1483.7L927.5 1483.9L929.7 1484.2L931.9 1484.1L934.1 1483.8L936.3 1484.4L938.5 1483.4L940.7 1483.3L943 1484.4L945.2 1483.5L947.4 1483.8L949.6 1484.5L951.9 1483.7L954.1 1484.8L956.3 1483.9L958.5 1484.9L960.7 1485.4L962.9 1484.4L965.1 1484.5L967.3 1484.8L969.5 1484L971.7 1484.6L973.8 1485.4L976 1484.8L978.1 1485.1L980.2 1484.3L982.4 1484.2L984.4 1485.1L986.5 1484.4L988.6 1484.1L990.6 1484.6L992.7 1484.3L994.7 1485.3L996.6 1485.3L998.6 1485.3L1000.5 1485.3L1002.5 1485.9L1004.3 1485.5L1006.2 1486L1008 1485.6L1009.9 1486.3L1011.6 1485.3L1013.4 1482.9L1015.1 1486L1016.8 1485.5L1018.5 1486L1020.1 1485L1021.7 1485.4L1023.3 1485.3L1024.8 1486.8L1026.3 1485.8L1029.4 1486.3L1032.3 1485.6L1035.1 1486.6L1037.7 1485.6L1040.2 1487.2L1042.6 1486.4L1044.8 1486.6L1047 1486.2L1049 1487.3L1050.9 1487.2L1052.8 1486.8L1054.6 1486.9L1056.3 1487.2L1058 1487.8L1059.6 1487.7L1061.2 1489.1L1062.8 1488.5L1064.4 1488.9L1066 1489.7L1067.6 1488L1069.2 1489L1070.8 1489.5L1072.5 1490.5L1074.2 1489.8L1076.5 1490.3L1078.7 1491L1080.9 1490.6L1083 1491.9L1085.1 1491.2L1087.1 1492.1L1089.1 1492.4L1091.1 1493.1L1093 1494.2L1094.9 1494.7L1096.8 1495.5L1098.7 1495.6L1100.6 1496.3L1102.5 1496.5L1104.4 1496.5L1106.4 1496.7L1108.3 1497.3L1110.3 1497.1L1112.3 1498.6L1114.2 1499.6L1116.1 1499.9L1118 1499L1119.8 1499.8L1121.7 1499.1L1123.5 1500.8L1125.4 1501.6L1127.2 1501L1129.1 1502.2L1131 1502.7L1133 1501.6L1135.1 1504.4L1137.2 1502.9L1139.3 1505.1L1141.6 1504.1L1143.9 1505.4L1146.4 1505.7L1148.1 1506.5L1149.8 1505.7L1151.6 1506.1L1153.5 1504.9L1155.3 1506.5L1157.2 1507L1159.2 1507.2L1161.1 1507.2L1163.1 1508.7L1165.1 1508.9L1167.2 1508.6L1169.3 1508.7L1171.3 1509.4L1173.4 1510.2L1175.5 1510.4L1177.6 1510L1179.8 1510.7L1181.9 1510.7L1184 1511.5L1186.1 1511.8L1188.2 1512.1L1190.3 1512.2L1192.4 1512.4L1194.5 1512.9L1196.5 1512.3L1198.6 1513.2L1200.6 1512.3L1202.6 1513.3L1204.7 1514L1206.9 1513.9L1209.1 1514.3L1211.4 1514.7L1213.7 1514.8L1216 1515.4L1218.3 1515.5L1220.6 1515.9L1223 1515.5L1225.3 1516.2L1227.6 1516.3L1229.9 1516.4L1232.2 1516.9L1234.4 1516.9L1236.5 1516.9L1238.6 1517.5L1240.7 1518L1242.6 1518.8L1244.5 1517.9L1246.3 1518.3L1248 1517.1L1249.6 1518.7L1251.1 1519.3L1252.4 1519.4L1253.6 1519.3L1254.7 1519.7" stroke="#cecece" stroke-width="2.5"/>
</g>
<g stroke="#1c1c1c" fill="none" stroke-linecap="butt">
<rect x="165.1" y="34.9" width="1255.8" height="728.4" stroke-width="3.1"/>
<path d="M165.1 156.3H182.6M165.1 277.7H182.6M165.1 399.1H182.6M165.1 520.5H182.6M165.1 641.9H182.6" stroke-width="2.9"/>
<path d="M165.1 59.2H174.1M165.1 83.5H174.1M165.1 107.7H174.1M165.1 132H174.1M165.1 180.6H174.1M165.1 204.9H174.1M165.1 229.1H174.1M165.1 253.4H174.1M165.1 302H174.1M165.1 326.3H174.1M165.1 350.5H174.1M165.1 374.8H174.1M165.1 423.4H174.1M165.1 447.7H174.1M165.1 471.9H174.1M165.1 496.2H174.1M165.1 544.8H174.1M165.1 569.1H174.1M165.1 593.3H174.1M165.1 617.6H174.1M165.1 666.2H174.1M165.1 690.5H174.1M165.1 714.7H174.1M165.1 739H174.1" stroke-width="2.6"/>
<path d="M290.7 763.3V754.3M416.3 763.3V746.3M541.8 763.3V754.3M667.4 763.3V746.3M793 763.3V754.3M918.6 763.3V746.3M1044.2 763.3V754.3M1169.7 763.3V746.3M1295.3 763.3V754.3" stroke-width="2.7"/>
<rect x="163.6" y="837" width="1255" height="728.3" stroke-width="3.1"/>
<path d="M163.6 1051.2H181.1M1418.6 1051.2H1401.1M163.6 1265.4H181.1M1418.6 1265.4H1401.1M163.6 1479.6H181.1M1418.6 1479.6H1401.1" stroke-width="2.9"/>
<path d="M163.6 879.8H172.6M1418.6 879.8H1409.6M163.6 922.7H172.6M1418.6 922.7H1409.6M163.6 965.5H172.6M1418.6 965.5H1409.6M163.6 1008.4H172.6M1418.6 1008.4H1409.6M163.6 1094H172.6M1418.6 1094H1409.6M163.6 1136.9H172.6M1418.6 1136.9H1409.6M163.6 1179.7H172.6M1418.6 1179.7H1409.6M163.6 1222.6H172.6M1418.6 1222.6H1409.6M163.6 1308.3H172.6M1418.6 1308.3H1409.6M163.6 1351.1H172.6M1418.6 1351.1H1409.6M163.6 1393.9H172.6M1418.6 1393.9H1409.6M163.6 1436.8H172.6M1418.6 1436.8H1409.6M163.6 1522.5H172.6M1418.6 1522.5H1409.6" stroke-width="2.6"/>
<path d="M372.8 1565.3V1556.3M372.8 837V846M581.9 1565.3V1548.3M581.9 837V854M791.1 1565.3V1556.3M791.1 837V846M1000.3 1565.3V1548.3M1000.3 837V854M1209.4 1565.3V1556.3M1209.4 837V846" stroke-width="2.7"/>
</g>
<g class="tk" text-anchor="end">
<text transform="translate(155.8 45.9) scale(.945 1)">0.9</text>
<text transform="translate(155.8 167.3) scale(.945 1)">0.8</text>
<text transform="translate(155.8 288.7) scale(.945 1)">0.7</text>
<text transform="translate(155.8 410.1) scale(.945 1)">0.6</text>
<text transform="translate(155.8 531.5) scale(.945 1)">0.5</text>
<text transform="translate(155.8 652.9) scale(.945 1)">0.4</text>
<text transform="translate(155.8 774.3) scale(.945 1)">0.3</text>
<text transform="translate(153.8 848.2) scale(.945 1)">0.55</text>
<text transform="translate(153.8 1062.4) scale(.945 1)">0.50</text>
<text transform="translate(153.8 1276.6) scale(.945 1)">0.45</text>
<text transform="translate(153.8 1490.8) scale(.945 1)">0.40</text>
</g>
<g class="tk" text-anchor="middle">
<text transform="translate(163.1 794.3) scale(.945 1)">0</text>
<text transform="translate(414.3 794.3) scale(.945 1)">100</text>
<text transform="translate(665.4 794.3) scale(.945 1)">200</text>
<text transform="translate(916.6 794.3) scale(.945 1)">300</text>
<text transform="translate(1167.7 794.3) scale(.945 1)">400</text>
<text transform="translate(1418.9 794.3) scale(.945 1)">500</text>
<text transform="translate(161.6 1597.3) scale(.945 1)">0</text>
<text transform="translate(370.8 1597.3) scale(.945 1)">50</text>
<text transform="translate(579.9 1597.3) scale(.945 1)">100</text>
<text transform="translate(789.1 1597.3) scale(.945 1)">150</text>
<text transform="translate(998.3 1597.3) scale(.945 1)">200</text>
<text transform="translate(1207.4 1597.3) scale(.945 1)">250</text>
<text transform="translate(1416.6 1597.3) scale(.945 1)">300</text>
</g>
<text class="ax" x="602.5" y="1659.8" style="font-size:40.7px">Applied Forces (tons)</text>
<text class="ax" transform="translate(45.2 554) rotate(-90)">Resistivity (Ohm)</text>
<text class="ax" transform="translate(45.2 1358.5) rotate(-90)">Resistivity (Ohm)</text>
<text class="ttl" x="398.8" y="118.5">14/8 assembly</text>
<g stroke-width="3" fill="none">
<path d="M411 165.5H501" stroke="#111"/>
<path d="M411 220.8H501" stroke="#808080"/>
<path d="M411 276H501" stroke="#d4d4d4"/>
<path d="M404 957.7H498.7" stroke="#808080"/>
<path d="M404 1011.3H498.7" stroke="#d4d4d4"/>
</g>
<text class="lg" x="521.8" y="178.5">COMPRES</text>
<text class="lg" x="521.8" y="234">584 with fins</text>
<text class="lg" x="521.8" y="289.3">584 without fins</text>
<text class="ttl" x="390.8" y="911">10/5 assembly</text>
<text class="lg" x="518.3" y="970.5">584 with fins</text>
<text class="lg" x="518.3" y="1024.3">584 without fins</text>
<text class="ttl" x="1343.5" y="90.5">(a)</text>
<text class="ttl" x="1343" y="895">(b)</text>
<g stroke="#111" stroke-width="2.6" fill="none" stroke-linejoin="miter">
<path d="M294.5 440.4H334M321 433.4L335 440.4L321 447.4" />
<path d="M400.7 684.8V644.2M393.7 657.2L400.7 643.2L407.7 657.2" />
<path d="M826.9 680.5V642.7M819.9 655.7L826.9 641.7L833.9 655.7" />
<path d="M239 974.3H279.6M266.6 967.3L280.6 974.3L266.6 981.3" />
<path d="M346.7 1534V1495.2M339.7 1508.2L346.7 1494.2L353.7 1508.2" />
<path d="M670.3 1536V1497.8M663.3 1510.8L670.3 1496.8L677.3 1510.8" />
</g>
<g class="ann">
<text x="248.5" y="452">I-II</text>
<text x="399.3" y="714" text-anchor="middle">II-III</text>
<text x="828.5" y="712" text-anchor="middle">III-V</text>
<text x="203.2" y="981.2">I-II</text>
<text x="351.6" y="1561.2" text-anchor="middle">II-III</text>
<text x="672" y="1555" text-anchor="middle">III-V</text>
</g>
<g>
<rect x="1165.2" y="227.3" width="16.3" height="254.9" fill="#716c90" stroke="#111" stroke-width="2.6"/>
<rect x="1079.7" y="128.7" width="189" height="452.7" fill="none" stroke="#111" stroke-width="3"/>
<rect x="1149.8" y="128.7" width="46.5" height="98.6" fill="#dcdcdc" stroke="#111" stroke-width="3"/>
<rect x="1149.8" y="482.2" width="46.5" height="99.2" fill="#dcdcdc" stroke="#111" stroke-width="3"/>
<path d="M1079.7 79.5V128.7M1269.1 79.5V128.7M1149.8 105V128.7M1196.3 105V128.7M1082.7 88.8H1265.7M1152.8 118.5H1193.3M1013.7 128.7H1079.7M1013.7 581.4H1079.7M1043.5 228H1079.7M1046.8 483.6H1079.7M1013.7 131.7V578.4M1058.2 131.7V578.4M1143.5 354.9H1160.9M1201 354.9H1185.8" stroke="#383838" stroke-width="1.9" fill="none"/>
<path d="M1081.2 88.8 L1098.7 83.4 L1095.2 88.8 L1098.7 94.2 Z" fill="#000" stroke="none"/>
<path d="M1267.2 88.8 L1249.7 94.2 L1253.2 88.8 L1249.7 83.4 Z" fill="#000" stroke="none"/>
<path d="M1151.3 118.5 L1166.3 113.7 L1163.3 118.5 L1166.3 123.3 Z" fill="#000" stroke="none"/>
<path d="M1194.8 118.5 L1179.8 123.3 L1182.8 118.5 L1179.8 113.7 Z" fill="#000" stroke="none"/>
<path d="M1013.7 129.9 L1019.9 148.4 L1013.7 144.7 L1007.5 148.4 Z" fill="#000" stroke="none"/>
<path d="M1013.7 580.2 L1007.5 561.7 L1013.7 565.4 L1019.9 561.7 Z" fill="#000" stroke="none"/>
<path d="M1058.2 129.9 L1064.2 147.9 L1058.2 144.3 L1052.2 147.9 Z" fill="#000" stroke="none"/>
<path d="M1058.2 227 L1052.2 209 L1058.2 212.6 L1064.2 209 Z" fill="#000" stroke="none"/>
<path d="M1058.2 229.2 L1064.2 247.2 L1058.2 243.6 L1052.2 247.2 Z" fill="#000" stroke="none"/>
<path d="M1058.2 482.6 L1052.2 464.6 L1058.2 468.2 L1064.2 464.6 Z" fill="#000" stroke="none"/>
<path d="M1058.2 484.8 L1064.2 502.8 L1058.2 499.2 L1052.2 502.8 Z" fill="#000" stroke="none"/>
<path d="M1058.2 580.2 L1052.2 562.2 L1058.2 565.8 L1064.2 562.2 Z" fill="#000" stroke="none"/>
<path d="M1163.9 354.9 L1146.9 360.7 L1150.3 354.9 L1146.9 349.1 Z" fill="#000" stroke="none"/>
<path d="M1182.8 354.9 L1199.8 349.1 L1196.4 354.9 L1199.8 360.7 Z" fill="#000" stroke="none"/>
<g class="sa">
<text x="1135.5" y="81.1" style="font-size:34.5px">5.2 mm</text>
<text x="1224" y="124.5" style="font-size:34px">1.2 mm</text>
<text transform="translate(995.7 407) rotate(-90)" style="font-size:35px">12.0 mm</text>
<text transform="translate(1051.3 402) rotate(-90)" style="font-size:36px">7.0 mm</text>
<text transform="translate(1049.5 576.5) rotate(-90)" style="font-size:35.6px">2.5 mm</text>
<text transform="translate(1140.2 430) rotate(-90)" style="font-size:35.5px">Bi powder</text>
<text transform="translate(1222.5 431) rotate(-90)" style="font-size:34.8px">0.7 mm</text>
<text transform="translate(1181.6 216) rotate(-90)" style="font-size:35.1px">Metal</text>
<text transform="translate(1181.8 574.8) rotate(-90)" style="font-size:37.2px">Metal</text>
</g>
</g>
<g>
<rect x="1189.9" y="1065.2" width="23.1" height="188.6" fill="#716c90" stroke="#111" stroke-width="2.6"/>
<rect x="1119.6" y="963.6" width="163.4" height="393.2" fill="none" stroke="#111" stroke-width="3"/>
<rect x="1176.3" y="963.6" width="49.1" height="101.6" fill="#dcdcdc" stroke="#111" stroke-width="3"/>
<rect x="1176.3" y="1253.8" width="49.1" height="103" fill="#dcdcdc" stroke="#111" stroke-width="3"/>
<path d="M1119.6 913.7V963.6M1283.4 913.7V963.6M1176.3 939.7V963.6M1225.4 939.7V963.6M1122.6 925.1H1280M1179.3 950.6H1222.4M1051.4 963.6H1119.6M1051.4 1356.8H1119.6M1082.4 1066.3H1119.6M1085.8 1256.8H1119.6M1051.4 966.6V1353.8M1097.4 966.6V1353.8M1169 1165.8H1185.6M1235.2 1165.8H1217.3" stroke="#383838" stroke-width="1.9" fill="none"/>
<path d="M1121.1 925.1 L1138.6 919.7 L1135.1 925.1 L1138.6 930.5 Z" fill="#000" stroke="none"/>
<path d="M1281.5 925.1 L1264 930.5 L1267.5 925.1 L1264 919.7 Z" fill="#000" stroke="none"/>
<path d="M1177.8 950.6 L1192.8 945.8 L1189.8 950.6 L1192.8 955.4 Z" fill="#000" stroke="none"/>
<path d="M1223.9 950.6 L1208.9 955.4 L1211.9 950.6 L1208.9 945.8 Z" fill="#000" stroke="none"/>
<path d="M1051.4 964.8 L1057.6 983.3 L1051.4 979.6 L1045.2 983.3 Z" fill="#000" stroke="none"/>
<path d="M1051.4 1355.6 L1045.2 1337.1 L1051.4 1340.8 L1057.6 1337.1 Z" fill="#000" stroke="none"/>
<path d="M1097.4 964.8 L1103.4 982.8 L1097.4 979.2 L1091.4 982.8 Z" fill="#000" stroke="none"/>
<path d="M1097.4 1065.3 L1091.4 1047.3 L1097.4 1050.9 L1103.4 1047.3 Z" fill="#000" stroke="none"/>
<path d="M1097.4 1067.5 L1103.4 1085.5 L1097.4 1081.9 L1091.4 1085.5 Z" fill="#000" stroke="none"/>
<path d="M1097.4 1255.8 L1091.4 1237.8 L1097.4 1241.4 L1103.4 1237.8 Z" fill="#000" stroke="none"/>
<path d="M1097.4 1258 L1103.4 1276 L1097.4 1272.4 L1091.4 1276 Z" fill="#000" stroke="none"/>
<path d="M1097.4 1355.6 L1091.4 1337.6 L1097.4 1341.2 L1103.4 1337.6 Z" fill="#000" stroke="none"/>
<path d="M1188.6 1165.8 L1171.6 1171.6 L1175 1165.8 L1171.6 1160 Z" fill="#000" stroke="none"/>
<path d="M1214.3 1165.8 L1231.3 1160 L1227.9 1165.8 L1231.3 1171.6 Z" fill="#000" stroke="none"/>
<g class="sb">
<text x="1166" y="910.3" style="font-size:36.8px">4.2 mm</text>
<text x="1236.5" y="955.8" style="font-size:36px">1.2 mm</text>
<text transform="translate(1040.3 1200.5) rotate(-90)" style="font-size:36.3px">8.0 mm</text>
<text transform="translate(1085.7 1188.5) rotate(-90)" style="font-size:36.3px">4.0 mm</text>
<text transform="translate(1085.7 1352) rotate(-90)" style="font-size:36.5px">2.0 mm</text>
<text transform="translate(1157.5 1231.5) rotate(-90)" style="font-size:36px">Bi powder</text>
<text transform="translate(1269 1216) rotate(-90)" style="font-size:36.3px">0.7 mm</text>
<text transform="translate(1213.5 1058.2) rotate(-90)" style="font-size:36.4px">Metal</text>
<text transform="translate(1212 1351) rotate(-90)" style="font-size:38px">Metal</text>
</g>
</g>
</g></svg></body></html>
